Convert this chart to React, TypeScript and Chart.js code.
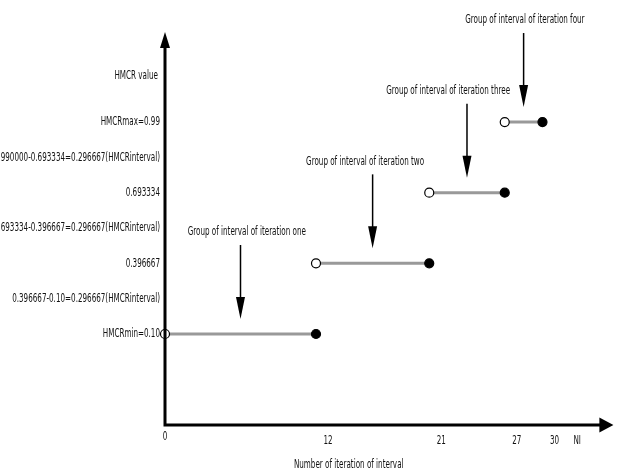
import React, { useEffect, useRef } from "react";
import { Chart, registerables } from "chart.js";

Chart.register(...registerables);

// ---- data ----
const levelValues = [0.1, 0.396667, 0.693334, 0.99];
const segmentStarts = [0, 12, 21, 27];
const segmentEnds = [12, 21, 27, 30];
const groupNames = [
  "Group of interval of iteration one",
  "Group of interval of iteration two",
  "Group of interval of iteration three",
  "Group of interval of iteration four",
];
const groupLabelAt = [6.5, 15.9, 22.5, 28.6];
const yTickValues = [0.1, 0.248333, 0.396667, 0.545, 0.693334, 0.841667, 0.99];
const yTickLabels = [
  "HMCRmin=0.10",
  "0.396667-0.10=0.296667(HMCRinterval)",
  "0.396667",
  "0.693334-0.396667=0.296667(HMCRinterval)",
  "0.693334",
  "0.990000-0.693334=0.296667(HMCRinterval)",
  "HMCRmax=0.99",
];
const yAxisTitle = "HMCR value";
const yAxisTitleAt = 1.183;
const xTickValues = [0, 12, 21, 27, 30, 31.8];
const xTickLabels = ["0", "12", "21", "27", "30", "NI"];
const xAxisTitle = "Number of iteration of interval";
const xAxisTitleAt = 14.6;

const FONT = "12.5px 'DejaVu Sans', sans-serif";
const SX = 0.575;
const TEXT_COLOR = "#111";

function squishText(ctx: CanvasRenderingContext2D, text: string, x: number, y: number, align: CanvasTextAlign) {
  ctx.save();
  ctx.translate(x, y);
  ctx.scale(SX, 1);
  ctx.font = FONT;
  ctx.fillStyle = TEXT_COLOR;
  ctx.textAlign = align;
  ctx.textBaseline = "middle";
  ctx.fillText(text, 0, 0);
  ctx.restore();
}

function downArrow(ctx: CanvasRenderingContext2D, x: number, yTail: number, yTip: number) {
  ctx.save();
  ctx.strokeStyle = "#000";
  ctx.fillStyle = "#000";
  ctx.lineWidth = 1.5;
  ctx.beginPath();
  ctx.moveTo(x, yTail);
  ctx.lineTo(x, yTip - 20);
  ctx.stroke();
  ctx.beginPath();
  ctx.moveTo(x - 4.5, yTip - 22);
  ctx.lineTo(x + 4.5, yTip - 22);
  ctx.lineTo(x, yTip);
  ctx.closePath();
  ctx.fill();
  ctx.restore();
}

const decorPlugin = {
  id: "decor",
  afterDraw(chart: any) {
    const ctx: CanvasRenderingContext2D = chart.ctx;
    const xs = chart.scales.x;
    const ys = chart.scales.y;
    const { left, right, top, bottom } = chart.chartArea;

    // axes
    ctx.save();
    ctx.strokeStyle = "#000";
    ctx.fillStyle = "#000";
    ctx.lineWidth = 3;
    ctx.beginPath();
    ctx.moveTo(left, bottom + 1.5);
    ctx.lineTo(left, top + 14);
    ctx.moveTo(left - 1.5, bottom);
    ctx.lineTo(right - 4, bottom);
    ctx.stroke();
    // y arrowhead
    ctx.beginPath();
    ctx.moveTo(left - 5, top + 16);
    ctx.lineTo(left + 5, top + 16);
    ctx.lineTo(left, top);
    ctx.closePath();
    ctx.fill();
    // x arrowhead
    ctx.beginPath();
    ctx.moveTo(right - 6, bottom - 7.5);
    ctx.lineTo(right - 6, bottom + 7.5);
    ctx.lineTo(right + 8, bottom);
    ctx.closePath();
    ctx.fill();
    ctx.restore();

    // y labels
    yTickValues.forEach((v, i) => {
      squishText(ctx, yTickLabels[i], left - 5, ys.getPixelForValue(v), "right");
    });
    squishText(ctx, yAxisTitle, left - 7, ys.getPixelForValue(yAxisTitleAt), "right");

    // x labels
    xTickValues.forEach((v, i) => {
      const dx = v === 0 ? 0 : 12;
      const dy = v === 0 ? 12 : 16;
      squishText(ctx, xTickLabels[i], xs.getPixelForValue(v) + dx, bottom + dy, "center");
    });
    squishText(ctx, xAxisTitle, xs.getPixelForValue(xAxisTitleAt), bottom + 40, "center");

    // group arrows + labels
    levelValues.forEach((lv, i) => {
      const mid = (segmentStarts[i] + segmentEnds[i]) / 2;
      const ax = xs.getPixelForValue(mid);
      const tip = ys.getPixelForValue(lv) - 15;
      const tail = tip - 74;
      downArrow(ctx, ax, tail, tip);
      squishText(ctx, groupNames[i], xs.getPixelForValue(groupLabelAt[i]), tail - 13, "center");
    });
  },
};

export default function App() {
  const ref = useRef<HTMLCanvasElement>(null);
  useEffect(() => {
    if (!ref.current) return;
    const datasets = levelValues.map((lv, i) => ({
      data: [
        { x: segmentStarts[i], y: lv },
        { x: segmentEnds[i], y: lv },
      ],
      showLine: true,
      borderColor: "#999999",
      borderWidth: 3,
      pointRadius: 4.5,
      pointBorderWidth: 1.2,
      pointBorderColor: "#000",
      pointBackgroundColor: ["#ffffff", "#000000"],
      clip: false as any,
    }));
    const chart = new Chart(ref.current, {
      type: "scatter",
      data: { datasets },
      options: {
        animation: false,
        responsive: true,
        maintainAspectRatio: false,
        layout: { padding: { left: 165, right: 15.6, top: 32, bottom: 47 } },
        plugins: { legend: { display: false }, tooltip: { enabled: false } },
        scales: {
          x: { type: "linear", min: 0, max: 35, display: false },
          y: { type: "linear", min: -0.282, max: 1.368, display: false },
        },
      },
      plugins: [decorPlugin],
    });
    return () => chart.destroy();
  }, []);
  return (
    <div style={{ position: "absolute", left: 0, top: 0, width: 621, height: 472, background: "#fff" }}>
      <canvas ref={ref} />
    </div>
  );
}
